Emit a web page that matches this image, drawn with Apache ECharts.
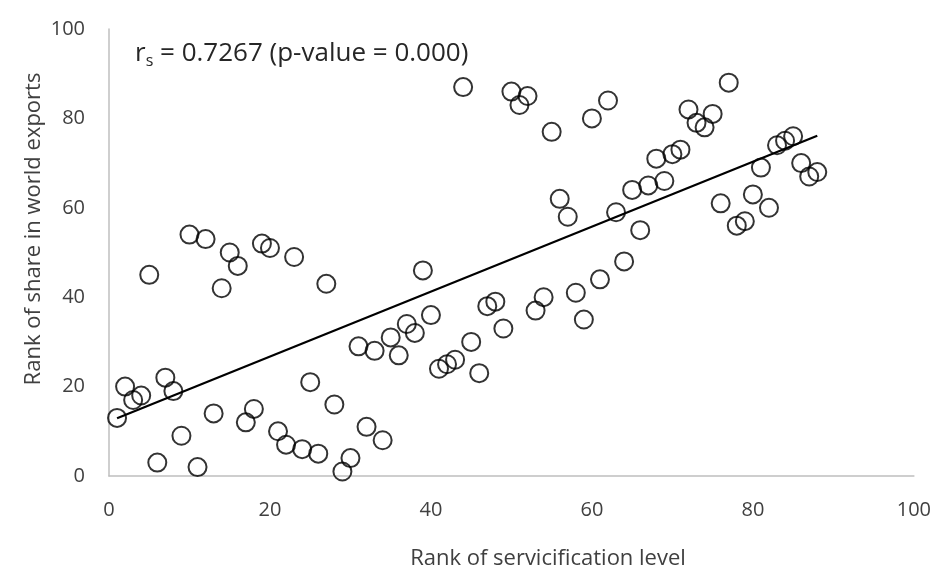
<!DOCTYPE html>
<html><head><meta charset="utf-8">
<script src="https://cdn.jsdelivr.net/npm/echarts@6/dist/echarts.min.js"></script>
<style>html,body{margin:0;padding:0;background:#fff}#c{width:934px;height:569px}</style>
</head><body><div id="c"></div>
<script>
// Rank of servicification level (x) vs rank of share in world exports (y)
const servRank = [1,2,3,4,5,6,7,8,9,10,11,12,13,14,15,16,17,18,19,20,21,22,23,24,25,26,27,28,29,30,31,32,33,34,35,36,37,38,39,40,41,42,43,44,45,46,47,48,49,50,51,52,53,54,55,56,57,58,59,60,61,62,63,64,65,66,67,68,69,70,71,72,73,74,75,76,77,78,79,80,81,82,83,84,85,86,87,88];
const exportRank = [13,20,17,18,45,3,22,19,9,54,2,53,14,42,50,47,12,15,52,51,10,7,49,6,21,5,43,16,1,4,29,11,28,8,31,27,34,32,46,36,24,25,26,87,30,23,38,39,33,86,83,85,37,40,77,62,58,41,35,80,44,84,59,48,64,55,65,71,66,72,73,82,79,78,81,61,88,56,57,63,69,60,74,75,76,70,67,68];
const trendX = [1, 88];
const trendY = [12.9, 76.1];
const xTicks = [0, 20, 40, 60, 80, 100];
const yTicks = [0, 20, 40, 60, 80, 100];
const xTitle = 'Rank of servicification level';
const yTitle = 'Rank of share in world exports';

const pts = servRank.map((x, i) => [x, exportRank[i]]);
const trend = trendX.map((x, i) => [x, trendY[i]]);
const FONT = '"Open Sans", "Noto Sans", sans-serif';
const TXT = '#404040';

const chart = echarts.init(document.getElementById('c'), null, {renderer: 'canvas'});
chart.setOption({
  animation: false,
  backgroundColor: '#fff',
  grid: {left: 109, right: 19, top: 29, bottom: 93, containLabel: false},
  xAxis: {
    type: 'value', min: xTicks[0], max: xTicks[xTicks.length-1], interval: 20,
    axisLine: {show: true, lineStyle: {color: '#bfbfbf', width: 1.5}},
    axisTick: {show: false}, splitLine: {show: false},
    axisLabel: {fontFamily: FONT, fontSize: 20, color: TXT, margin: 24}
  },
  yAxis: {
    type: 'value', min: yTicks[0], max: yTicks[yTicks.length-1], interval: 20,
    axisLine: {show: true, lineStyle: {color: '#bfbfbf', width: 1.5}},
    axisTick: {show: false}, splitLine: {show: false},
    axisLabel: {fontFamily: FONT, fontSize: 20, color: TXT, margin: 24}
  },
  graphic: [
    {
      type: 'text', x: 135, y: 54,
      style: {
        text: '{a|r}{s|s}{a| = 0.7267 (p-value = 0.000)}',
        verticalAlign: 'middle',
        rich: {
          a: {fontFamily: FONT, fontSize: 26, fill: '#262626', color: '#262626'},
          s: {fontFamily: FONT, fontSize: 16, fill: '#262626', color: '#262626', padding: [14, 0, 0, 0]}
        }
      }
    },
    {
      type: 'text', x: 548, y: 559,
      style: {text: xTitle, fontFamily: FONT, fontSize: 22, fill: TXT, align: 'center', verticalAlign: 'middle'}
    },
    {
      type: 'text', x: 34, y: 229, rotation: Math.PI / 2,
      style: {text: yTitle, fontFamily: FONT, fontSize: 22, fill: TXT, align: 'center', verticalAlign: 'middle'}
    }
  ],
  series: [
    {
      type: 'scatter', data: pts, symbol: 'circle', symbolSize: 18,
      itemStyle: {color: 'rgba(0,0,0,0)', borderColor: '#000', borderWidth: 2},
      z: 3
    },
    {
      type: 'line', data: trend, symbol: 'none',
      lineStyle: {color: '#000', width: 2.2}, z: 4
    }
  ]
});
</script></body></html>
